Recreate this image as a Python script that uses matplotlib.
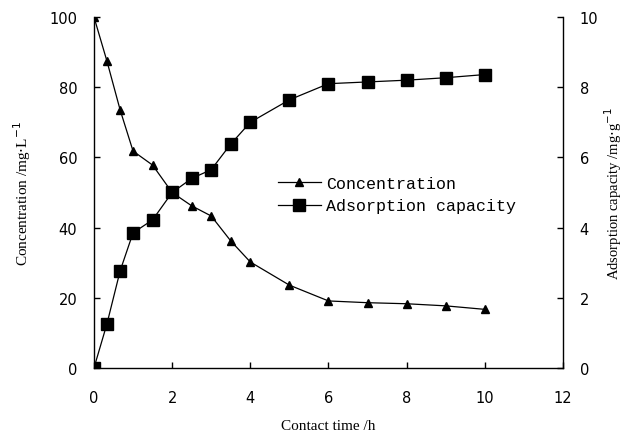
import matplotlib
matplotlib.use("Agg")
import matplotlib.pyplot as plt
from matplotlib.lines import Line2D

# contact time (h)
time_h = [0, 0.33, 0.67, 1, 1.5, 2, 2.5, 3, 3.5, 4, 5, 6, 7, 8, 9, 10]
# concentration (mg/L), left axis
conc = [100, 87.5, 73.5, 61.8, 57.8, 50.0, 46.2, 43.3, 36.2, 30.2, 23.6, 19.1, 18.6, 18.3, 17.7, 16.7]
# adsorption capacity (mg/g), right axis
capacity = [0, 1.25, 2.77, 3.85, 4.22, 5.0, 5.4, 5.65, 6.38, 7.0, 7.64, 8.1, 8.15, 8.2, 8.27, 8.36]

fig = plt.figure(figsize=(6.29, 4.39), dpi=100)
ax = fig.add_axes([0.1494, 0.1595, 0.7456, 0.7995])
ax2 = ax.twinx()

ax.plot(time_h, conc, color="black", lw=0.9, marker="^", ms=6, zorder=3)
ax2.plot(time_h, capacity, color="black", lw=0.9, marker="s", ms=9, zorder=3)

ax.set_xlim(0, 12)
ax.set_ylim(0, 100)
ax2.set_ylim(0, 10)
ax.set_xticks(range(0, 13, 2))
ax.set_yticks(range(0, 101, 20))
ax2.set_yticks(range(0, 11, 2))

for a in (ax, ax2):
    a.spines["top"].set_visible(False)
    for s in a.spines.values():
        s.set_linewidth(1.0)
    a.tick_params(direction="in", length=4, width=1, labelsize=10.5, pad=12)
ax.tick_params(axis="x", pad=16)
ax.spines["right"].set_visible(False)
ax2.spines["left"].set_visible(False)
ax2.spines["bottom"].set_visible(False)

serif = "Liberation Serif"
ax.set_xlabel("Contact time /h", fontname=serif, fontsize=11, labelpad=10)
ax.set_ylabel("Concentration /mg$\\cdot$L$^{-1}$", fontname=serif, fontsize=11, labelpad=12)
ax2.set_ylabel("Adsorption capacity /mg$\\cdot$g$^{-1}$", fontname=serif, fontsize=10.5,
               labelpad=3, rotation=90)

handles = [Line2D([], [], color="black", lw=0.9, marker="^", ms=6),
           Line2D([], [], color="black", lw=0.9, marker="s", ms=9)]
ax.legend(handles, ["Concentration", "Adsorption capacity"], loc="upper left",
          bbox_to_anchor=(0.36, 0.59), frameon=False, handlelength=2.6, handletextpad=0.3,
          prop={"family": "Liberation Mono", "size": 12}, labelspacing=0.45)

fig.savefig("out.png", dpi=100)
